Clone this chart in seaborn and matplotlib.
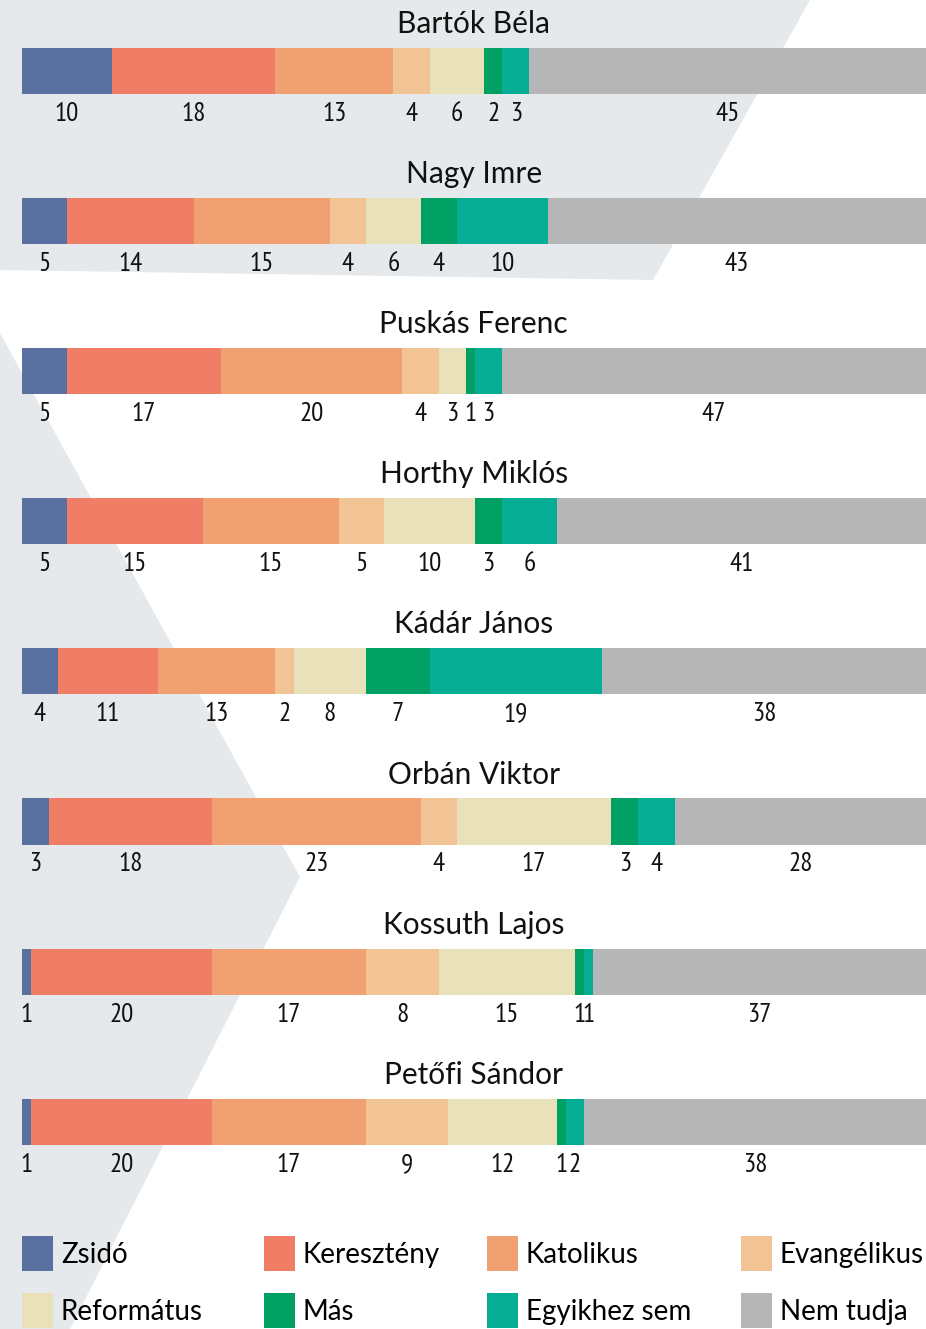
import numpy as np
import pandas as pd
import matplotlib
matplotlib.use('Agg')
import matplotlib.pyplot as plt
import matplotlib.font_manager as fm
from matplotlib.patches import Patch, Polygon
import seaborn as sns

# Data (percent)
people = ['Bartók Béla', 'Nagy Imre', 'Puskás Ferenc', 'Horthy Miklós',
          'Kádár János', 'Orbán Viktor', 'Kossuth Lajos', 'Petőfi Sándor']
groups = ['Zsidó', 'Keresztény', 'Katolikus', 'Evangélikus',
          'Református', 'Más', 'Egyikhez sem', 'Nem tudja']
zsido = [10, 5, 5, 5, 4, 3, 1, 1]
kereszteny = [18, 14, 17, 15, 11, 18, 20, 20]
katolikus = [13, 15, 20, 15, 13, 23, 17, 17]
evangelikus = [4, 4, 4, 5, 2, 4, 8, 9]
reformatus = [6, 6, 3, 10, 8, 17, 15, 12]
mas = [2, 4, 1, 3, 7, 3, 1, 1]
egyikhez_sem = [3, 10, 3, 6, 19, 4, 1, 2]
nem_tudja = [45, 43, 47, 41, 38, 28, 37, 38]

colors = ['#5a70a1', '#f07e66', '#f0a071', '#f2c395',
          '#e8e1b9', '#00a064', '#05ad95', '#b6b6b6']

df = pd.DataFrame({'name': people, 'Zsidó': zsido, 'Keresztény': kereszteny,
                   'Katolikus': katolikus, 'Evangélikus': evangelikus,
                   'Református': reformatus, 'Más': mas,
                   'Egyikhez sem': egyikhez_sem, 'Nem tudja': nem_tudja})
cum = df[groups].cumsum(axis=1)
cum['name'] = df['name']

# pick a narrow face for the numbers if one is around
installed = {f.name for f in fm.fontManager.ttflist}
narrow = [n for n in ['PT Sans Narrow', 'Fira Sans Condensed', 'Roboto Condensed',
                      'Open Sans Condensed', 'Liberation Sans Narrow'] if n in installed]
num_font = narrow[:1] + ['DejaVu Sans']
num_size = 19.5 if narrow else 16
title_font = ['Lato', 'DejaVu Sans']

W, H = 926, 1329
fig = plt.figure(figsize=(W / 100, H / 100), dpi=100)

# background shapes
bg = fig.add_axes([0, 0, 1, 1], zorder=0)
bg.set_xlim(0, W)
bg.set_ylim(H, 0)
bg.axis('off')
bg.add_patch(Polygon([(0, 0), (810, 0), (653, 280), (0, 270)],
                     closed=True, color='#e6e9ec', lw=0))
bg.add_patch(Polygon([(0, 333), (300, 877), (70, 1329), (0, 1329)],
                     closed=True, color='#e6e9ec', lw=0))

# main axes: category i centred at pixel 71 + 150.1*i
x0, top_px, bot_px = 21.5, 0, 1200
ax = fig.add_axes([x0 / W, 1 - bot_px / H, (W - x0) / W, (bot_px - top_px) / H], zorder=1)
ax.patch.set_alpha(0)

xmax = (W - x0) / 9.07
for g, c in reversed(list(zip(groups, colors))):
    sns.barplot(data=cum, x=g, y='name', color=c, saturation=1, orient='h',
                width=0.307, linewidth=0, ax=ax)

step = 150.1
ax.set_xlim(0, xmax)
ax.set_ylim((bot_px - 71) / step, (top_px - 71) / step)
ax.axis('off')

for i, name in enumerate(people):
    ax.text(xmax / 2, i - 38 / step, name, ha='center', va='baseline',
            fontsize=21.5, family=title_font, color='#111111')
    left = 0
    for g in groups:
        v = df.loc[i, g]
        right = left + v
        xc = (left + min(right, xmax)) / 2
        ax.text(xc, i + 50 / step, str(v), ha='center', va='baseline',
                fontsize=num_size, family=num_font, color='#111111')
        left = right

# legend: one small legend per column (two rows each)
col_x = [22, 264, 487, 741]
for j, xpos in enumerate(col_x):
    hs = [Patch(facecolor=colors[k], edgecolor='none', label=groups[k]) for k in (j, j + 4)]
    fig.legend(handles=hs, loc='upper left',
               bbox_to_anchor=(xpos / W, 1 - 1236 / H), frameon=False,
               prop={'family': title_font, 'size': 20},
               handlelength=1.1, handleheight=1.55, handletextpad=0.3,
               labelspacing=0.8, borderpad=0, borderaxespad=0)

fig.savefig('out.png', dpi=100)
